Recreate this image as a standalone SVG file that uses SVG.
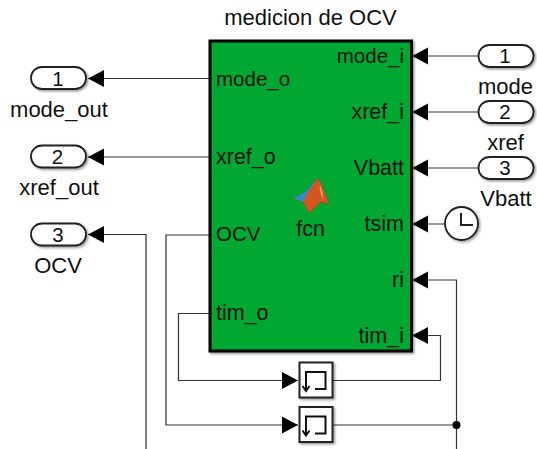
<svg xmlns="http://www.w3.org/2000/svg" width="537" height="449" viewBox="0 0 537 449">
<defs>
<filter id="sh" x="-20%" y="-20%" width="140%" height="140%"><feDropShadow dx="1.500" dy="1.500" stdDeviation="1" flood-color="#000" flood-opacity="0.4"/></filter>
<marker id="arr" markerUnits="userSpaceOnUse" markerWidth="17" markerHeight="18" refX="16" refY="8.500" orient="auto"><path d="M0,0L16,8.500L0,17Z" fill="#000"/></marker>
</defs>
<style>
text{font-family:"Liberation Sans",Arial,sans-serif;font-size:20.500px;fill:#111}
.o{font-size:22px}
.b{font-size:21.500px}
.w{fill:none;stroke:#333;stroke-width:1.200}
.a{marker-end:url(#arr)}
.port{fill:#fff;stroke:#222;stroke-width:1.800;filter:url(#sh)}
.m{text-anchor:middle}
.e{text-anchor:end}
</style>
<rect width="537" height="449" fill="#fff"/>
<g id="connectors">
<path class="w a" d="M209,78.500H88"/>
<path class="w a" d="M209,157H88"/>
<path class="w a" d="M146,449V234.500H88"/>
<path class="w a" d="M478,56H412"/>
<path class="w a" d="M478,112H412"/>
<path class="w a" d="M478,168H412"/>
<path class="w a" d="M445,224H412"/>
<path class="w a" d="M456.500,449V280H412"/>
<path class="w a" d="M333,380.500H440.500V335.500H412"/>
<path class="w" d="M333,425H456.500"/>
<circle cx="456.500" cy="425" r="4" fill="#000"/>
<path class="w a" d="M209,313.500H178.500V380.500H298"/>
<path class="w a" d="M209,235H166V425H298"/>
</g>
<g id="fcn">
<rect x="210" y="41" width="201.500" height="310" fill="#00A832" stroke="#000" stroke-width="3" filter="url(#sh)"/>
<text class="m o" x="310.500" y="25">medicion de OCV</text>
<text x="216" y="85.500">mode_o</text>
<text class="b" x="216" y="164">xref_o</text>
<text x="216" y="241">OCV</text>
<text class="b" x="216" y="320">tim_o</text>
<text class="e" x="404" y="63">mode_i</text>
<text class="e b" x="404" y="119">xref_i</text>
<text class="e b" x="404" y="175">Vbatt</text>
<text class="e b" x="404" y="231">tsim</text>
<text class="e b" x="404" y="287">ri</text>
<text class="e b" x="404" y="343">tim_i</text>
<text class="m b" x="310.500" y="236">fcn</text>
<path d="M293,198L305,192L315,181L318,178L323,187L329,204L321,202L309,213L303,202Z" fill="#D2571F" stroke="#8a4a20" stroke-width="0.500"/>
<path d="M293,198L305,192L315,181L318,178L309,191L303,202Z" fill="#2F8CC8"/>
<path d="M320,185Q323,192 323,199Q319,192 320,185Z" fill="#F0A27A"/>
</g>
<g id="out1"><rect class="port" x="31" y="67" width="55" height="22" rx="11"/><text class="m" x="58" y="85.500">1</text><text class="m o" x="59" y="116.500">mode_out</text></g>
<g id="out2"><rect class="port" x="31" y="145.500" width="55" height="22" rx="11"/><text class="m" x="57.500" y="164">2</text><text class="m o" x="59" y="195">xref_out</text></g>
<g id="out3"><rect class="port" x="31" y="223.500" width="55" height="22" rx="11"/><text class="m" x="58" y="241.500">3</text><text class="m o" x="58" y="273">OCV</text></g>
<g id="in1"><rect class="port" x="478.500" y="45" width="55" height="22" rx="11"/><text class="m" x="505" y="63">1</text><text class="m o" x="505.500" y="94">mode</text></g>
<g id="in2"><rect class="port" x="478.500" y="101" width="55" height="22" rx="11"/><text class="m" x="505" y="119">2</text><text class="m o" x="505.500" y="150">xref</text></g>
<g id="in3"><rect class="port" x="478.500" y="157" width="55" height="22" rx="11"/><text class="m" x="505" y="175">3</text><text class="m o" x="506" y="206">Vbatt</text></g>
<g id="clock"><circle cx="461.500" cy="223.500" r="16.500" fill="#fff" stroke="#222" stroke-width="1.800" filter="url(#sh)"/><path d="M461,213V225H473" fill="none" stroke="#222" stroke-width="2"/></g>
<g id="mem1"><rect x="299.500" y="362.500" width="33" height="35" fill="#fff" stroke="#222" stroke-width="2" filter="url(#sh)"/><path d="M306,390V372H325.500V389H315M302.500,386L306,391L309.500,386" fill="none" stroke="#111" stroke-width="2"/></g>
<g id="mem2"><rect x="299.500" y="407" width="33" height="35" fill="#fff" stroke="#222" stroke-width="2" filter="url(#sh)"/><path d="M306,434.500V416.500H325.500V433.500H315M302.500,430.500L306,435.500L309.500,430.500" fill="none" stroke="#111" stroke-width="2"/></g>
</svg>
